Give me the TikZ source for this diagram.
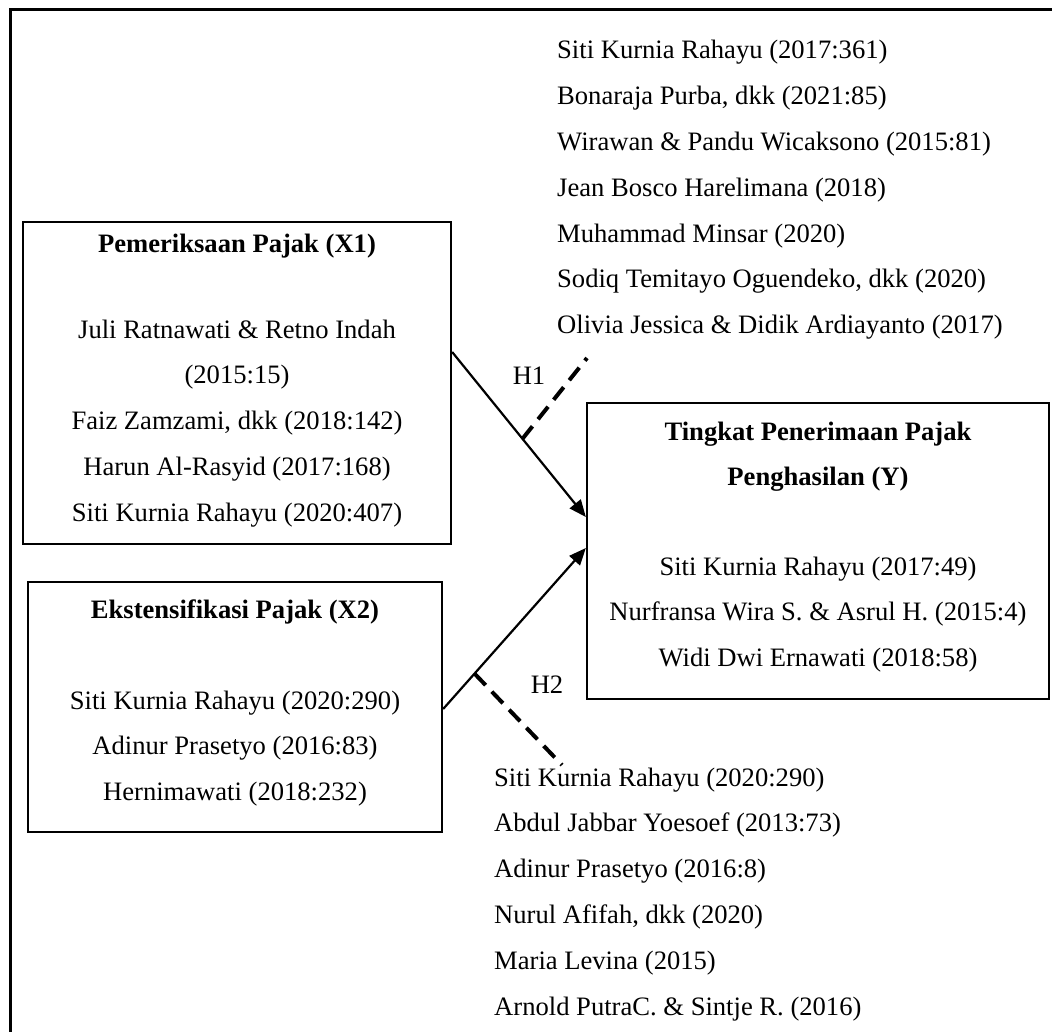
\documentclass[tikz,border=0pt]{standalone}
\usepackage{fontspec}
\setmainfont{Liberation Serif}
\usetikzlibrary{arrows.meta}
\begin{document}
\begin{tikzpicture}[x=1pt,y=-1pt,
  box/.style={draw, line width=2.3pt, inner sep=0pt},
  txt/.style={inner sep=0pt, font=\fontsize{26.6pt}{45.8pt}\selectfont},
  lst/.style={txt, anchor=base west},
  ctr/.style={txt, anchor=base},
  arr/.style={line width=2.2pt, -{Triangle[length=17pt,width=14pt]}},
  dsh/.style={line width=4pt, dash pattern=on 16pt off 9pt}
]
\useasboundingbox (0,0) rectangle (1052,1032);
\fill[white] (0,0) rectangle (1052,1032);
% outer frame (only top and left edges visible)
\draw[line width=2.6pt] (10.5,1032) -- (10.5,9.5) -- (1052,9.5);

% boxes
\node[box, minimum width=428pt, minimum height=322pt] (x1) at (237,383) {};
\node[box, minimum width=414pt, minimum height=250pt] (x2) at (235,707) {};
\node[box, minimum width=462pt, minimum height=296pt] (y) at (818,551) {};

% X1 texts
\node[ctr] (x1t) at (237,253) {\bfseries Pemeriksaan Pajak (X1)};
\node[ctr] (x1a) at (237,338) {Juli Ratnawati \& Retno Indah};
\node[ctr] (x1b) at (237,383.8) {(2015:15)};
\node[ctr] (x1c) at (237,429.6) {Faiz Zamzami, dkk (2018:142)};
\node[ctr] (x1d) at (237,475.4) {Harun Al-Rasyid (2017:168)};
\node[ctr] (x1e) at (237,521.2) {Siti Kurnia Rahayu (2020:407)};

% X2 texts
\node[ctr] (x2t) at (235,618) {\bfseries Ekstensifikasi Pajak (X2)};
\node[ctr] (x2a) at (235,709) {Siti Kurnia Rahayu (2020:290)};
\node[ctr] (x2b) at (235,754.8) {Adinur Prasetyo (2016:83)};
\node[ctr] (x2c) at (235,800.6) {Hernimawati (2018:232)};

% Y texts
\node[ctr] (yt1) at (818,440) {\bfseries Tingkat Penerimaan Pajak};
\node[ctr] (yt2) at (818,485.8) {\bfseries Penghasilan (Y)};
\node[ctr] (ya) at (818,575) {Siti Kurnia Rahayu (2017:49)};
\node[ctr] (yb) at (818,620.8) {Nurfransa Wira S. \& Asrul H. (2015:4)};
\node[ctr] (yc) at (818,666.6) {Widi Dwi Ernawati (2018:58)};

% top list
\node[lst] (t1) at (557,59) {Siti Kurnia Rahayu (2017:361)};
\node[lst] (t2) at (557,104.8) {Bonaraja Purba, dkk (2021:85)};
\node[lst] (t3) at (557,150.6) {Wirawan \& Pandu Wicaksono (2015:81)};
\node[lst] (t4) at (557,196.4) {Jean Bosco Harelimana (2018)};
\node[lst] (t5) at (557,242.2) {Muhammad Minsar (2020)};
\node[lst] (t6) at (557,288) {Sodiq Temitayo Oguendeko, dkk (2020)};
\node[lst] (t7) at (557,333.8) {Olivia Jessica \& Didik Ardiayanto (2017)};

% bottom list
\node[lst] (b1) at (494,786) {Siti Kurnia Rahayu (2020:290)};
\node[lst] (b2) at (494,831.8) {Abdul Jabbar Yoesoef (2013:73)};
\node[lst] (b3) at (494,877.6) {Adinur Prasetyo (2016:8)};
\node[lst] (b4) at (494,923.4) {Nurul Afifah, dkk (2020)};
\node[lst] (b5) at (494,969.2) {Maria Levina (2015)};
\node[lst] (b6) at (494,1015) {Arnold PutraC. \& Sintje R. (2016)};

% hypothesis labels
\node[ctr] (h1) at (529,384) {H1};
\node[ctr] (h2) at (547,693) {H2};

% arrows
\draw[arr] (x1.east |- 0,352) -- coordinate[pos=0.526] (d1) (y.west |- 0,517);
\draw[arr] (x2.east |- 0,709) -- coordinate[pos=0.22] (d2) (y.west |- 0,548);

% dashed links to references
\coordinate (e1) at (587,358);
\coordinate (e2) at (562,765);
\draw[dsh] (d1) -- (e1);
\draw[dsh] (d2) -- (e2);
\end{tikzpicture}
\end{document}
